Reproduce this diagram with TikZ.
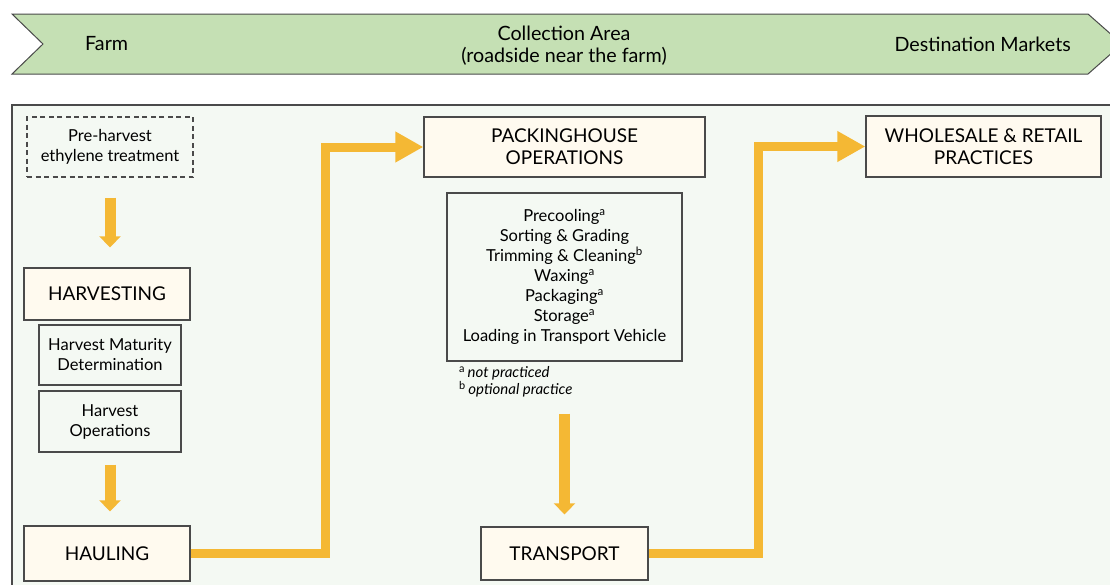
\documentclass[tikz,border=0pt]{standalone}
\usepackage{fontspec}
\setmainfont{Lato}
\usetikzlibrary{arrows.meta}
\definecolor{bannerfill}{HTML}{C5E0B4}
\definecolor{panelfill}{HTML}{F4F9F3}
\definecolor{boxfill}{HTML}{FFFAEF}
\definecolor{edge}{HTML}{4A4A4A}
\definecolor{flow}{HTML}{F4B834}
\newcommand{\fnmark}[1]{\textsuperscript{\fontsize{11}{11}\selectfont #1}}
\tikzset{
  title/.style={draw=edge, line width=1.3pt, fill=boxfill, align=center, inner sep=0pt,
    font=\fontsize{19}{22}\selectfont},
  sub/.style={draw=edge, line width=1.1pt, fill=panelfill, align=center, inner sep=0pt,
    font=\fontsize{16.5}{20}\selectfont},
  downarrow/.style={draw=flow, line width=11pt, -{Triangle[width=21pt,length=11pt]}},
  elbow/.style={draw=flow, line width=9pt, line join=miter,
    -{Triangle[width=29pt,length=28pt]}},
  bannertext/.style={font=\fontsize{19.7}{22}\selectfont, inner sep=0pt}
}
\begin{document}
\begin{tikzpicture}[x=1pt,y=-1pt]
\useasboundingbox (0,0) rectangle (1110,584);
\begin{scope}
\clip (0,0) rectangle (1110,584);
% banner
\draw[draw=edge, line width=1pt, fill=bannerfill]
  (12,14) -- (1088,14) -- (1122,44) -- (1088,74) -- (12,74) -- (43,44) -- cycle;
% panel
\draw[draw=edge, line width=1.3pt, fill=panelfill] (12,105) rectangle (1130,620);
\end{scope}
\node[bannertext, anchor=west] (farm) at (85,44) {Farm};
\node[bannertext, align=center] (coll) at (564,46) {Collection Area\\(roadside near the farm)};
\node[bannertext, anchor=east] (dest) at (1071,44) {Destination Markets};

% left column
\node[sub, dash pattern=on 5pt off 3.5pt, minimum width=166pt, minimum height=60pt] (pre) at (110,147)
  {Pre-harvest\\ethylene treatment};
\node[title, minimum width=166pt, minimum height=52pt] (harv) at (107,294) {HARVESTING};
\node[sub, minimum width=142pt, minimum height=60pt] (hmd) at (110,355)
  {Harvest Maturity\\Determination};
\node[sub, minimum width=142pt, minimum height=61pt] (hop) at (110,421.5)
  {Harvest\\Operations};
\node[title, minimum width=166pt, minimum height=55pt] (haul) at (107,553.5) {HAULING};

% middle column
\node[title, minimum width=281pt, minimum height=60pt] (pack) at (564.5,147)
  {PACKINGHOUSE\\OPERATIONS};
\node[sub, minimum width=235pt, minimum height=168pt] (list) at (564.5,277)
  {Precooling\textsuperscript{a}\\Sorting \& Grading\\Trimming \& Cleaning\textsuperscript{b}\\
   Waxing\textsuperscript{a}\\Packaging\textsuperscript{a}\\Storage\textsuperscript{a}\\
   Loading in Transport Vehicle};
\node[anchor=north west, align=left, inner sep=0pt, font=\fontsize{15}{17}\selectfont]
  (notes) at (459,366)
  {\fnmark{a}\,\textit{not practiced}\\\fnmark{b}\,\textit{optional practice}};
\node[title, minimum width=167pt, minimum height=53pt] (trans) at (564.5,553.5) {TRANSPORT};

% right column
\node[title, minimum width=235pt, minimum height=61pt] (whole) at (983.5,146.5)
  {WHOLESALE \& RETAIL\\PRACTICES};

% arrows
\draw[downarrow, shorten <=20pt, shorten >=20pt] (pre.south) -- (pre.south |- harv.north);
\draw[downarrow, shorten <=12pt, shorten >=14pt] (hop.south) -- (hop.south |- haul.north);
\draw[downarrow, shorten <=52pt, shorten >=12pt] (list.south) -- (trans.north);
\draw[elbow] (haul.east) -- ++(134.5,0) |- (pack.west);
\draw[elbow] (trans.east) -- ++(109.5,0) |- (whole.west);
\end{tikzpicture}
\end{document}
